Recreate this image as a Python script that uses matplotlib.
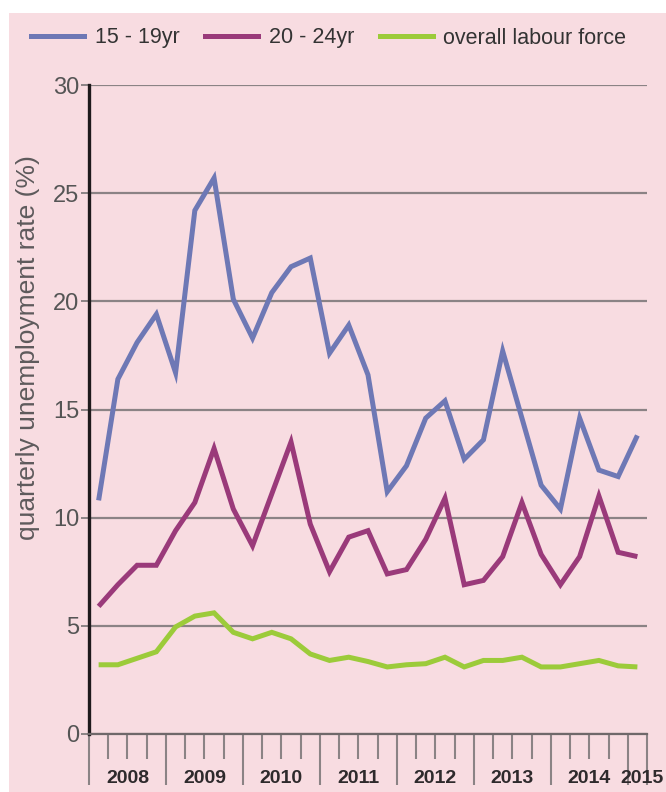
import numpy as np
import matplotlib
matplotlib.use("Agg")
import matplotlib.pyplot as plt
from matplotlib.patches import Rectangle
from matplotlib.lines import Line2D

# Quarterly unemployment rates (%), 2008 Q1 – 2015 Q1
teen_15_19 = [10.8, 16.4, 18.1, 19.4, 16.7, 24.2, 25.7, 20.1, 18.3, 20.4,
              21.6, 22.0, 17.6, 18.9, 16.6, 11.2, 12.4, 14.6, 15.4, 12.7,
              13.6, 17.7, 14.6, 11.5, 10.4, 14.6, 12.2, 11.9, 13.8]
young_20_24 = [5.9, 6.9, 7.8, 7.8, 9.4, 10.7, 13.2, 10.4, 8.7, 11.1,
               13.5, 9.7, 7.5, 9.1, 9.4, 7.4, 7.6, 9.0, 10.9, 6.9,
               7.1, 8.2, 10.7, 8.3, 6.9, 8.2, 11.0, 8.4, 8.2]
overall = [3.2, 3.2, 3.5, 3.8, 4.95, 5.45, 5.6, 4.7, 4.4, 4.7,
           4.4, 3.7, 3.4, 3.55, 3.35, 3.1, 3.2, 3.25, 3.55, 3.1,
           3.4, 3.4, 3.55, 3.1, 3.1, 3.25, 3.4, 3.15, 3.1]

series_labels = ["15 - 19yr", "20 - 24yr", "overall labour force"]
series_colors = ["#6E78B5", "#9A3A7A", "#9CCB3A"]
years = ["2008", "2009", "2010", "2011", "2012", "2013", "2014", "2015"]
y_ticks = [0, 5, 10, 15, 20, 25, 30]

PINK = "#F8DCE1"
FONT = ["Liberation Sans", "DejaVu Sans"]

fig = plt.figure(figsize=(6.66, 7.92), dpi=100)
fig.patch.set_facecolor("white")
fig.patches.append(Rectangle((9 / 666, 0), 1, 1 - 13 / 792,
                             transform=fig.transFigure, facecolor=PINK,
                             edgecolor="none", zorder=-10))

ax = fig.add_axes([89 / 666, 58 / 792, (647 - 89) / 666, (734 - 85) / 792])
ax.set_facecolor("none")

n = len(teen_15_19)
x = np.arange(n) + 0.5
for vals, col in zip([teen_15_19, young_20_24, overall], series_colors):
    ax.plot(x, vals, color=col, lw=3.6, solid_joinstyle="miter",
            solid_capstyle="butt", zorder=3)

ax.set_xlim(0, n)
ax.set_ylim(0, 30)

# y axis: gridlines at every 5 points
ax.set_yticks(y_ticks)
ax.set_yticklabels([str(v) for v in y_ticks])
ax.yaxis.grid(True, color="#8B8385", lw=1.6)
ax.set_axisbelow(True)
ax.tick_params(axis="y", direction="out", length=6, width=1.4,
               color="#8B8385", pad=1, labelsize=17, labelcolor="#555555")
for lab in ax.get_yticklabels():
    lab.set_family(FONT)

# x axis: long ticks at year boundaries, short ticks at quarters
major = list(range(0, n, 4)) + [n]
minor = [q for q in range(n) if q % 4 != 0]
ax.set_xticks(major)
ax.set_xticklabels([])
ax.set_xticks(minor, minor=True)
ax.tick_params(axis="x", which="major", direction="out", length=37,
               width=1.5, color="#8B8385")
ax.tick_params(axis="x", which="minor", direction="out", length=18,
               width=1.5, color="#8B8385")

for s in ["top", "right"]:
    ax.spines[s].set_visible(False)
ax.spines["left"].set_color("#1E1A1C")
ax.spines["left"].set_linewidth(2.4)
ax.spines["bottom"].set_color("#6F686A")
ax.spines["bottom"].set_linewidth(1.6)

# year labels sit between the year boundary ticks
for k, yr in enumerate(years):
    start = 4 * k
    end = min(start + 4, n)
    xc = (start + end) / 2 if end - start == 4 else start + 0.72
    ax.text(xc, -0.068, yr, transform=ax.get_xaxis_transform(),
            ha="center", va="center", fontsize=14, fontweight="bold",
            color="#2E2A2C", family=FONT)

ax.set_ylabel("quarterly unemployment rate (%)", fontsize=19,
              color="#5E5A5C", family=FONT)
ax.yaxis.set_label_coords(-0.088, 0.595)

# legend across the top
handles = [Line2D([], [], color=c, lw=3.6) for c in series_colors]
leg = fig.legend(handles, series_labels, ncol=3, loc="center left",
                 bbox_to_anchor=(31 / 666, 1 - 38 / 792), frameon=False,
                 borderaxespad=0, borderpad=0, handlelength=2.45,
                 handletextpad=0.5, columnspacing=1.2,
                 prop={"family": FONT, "size": 15.5})
for t in leg.get_texts():
    t.set_color("#333333")

fig.savefig("out.png", dpi=100, facecolor=fig.get_facecolor())
